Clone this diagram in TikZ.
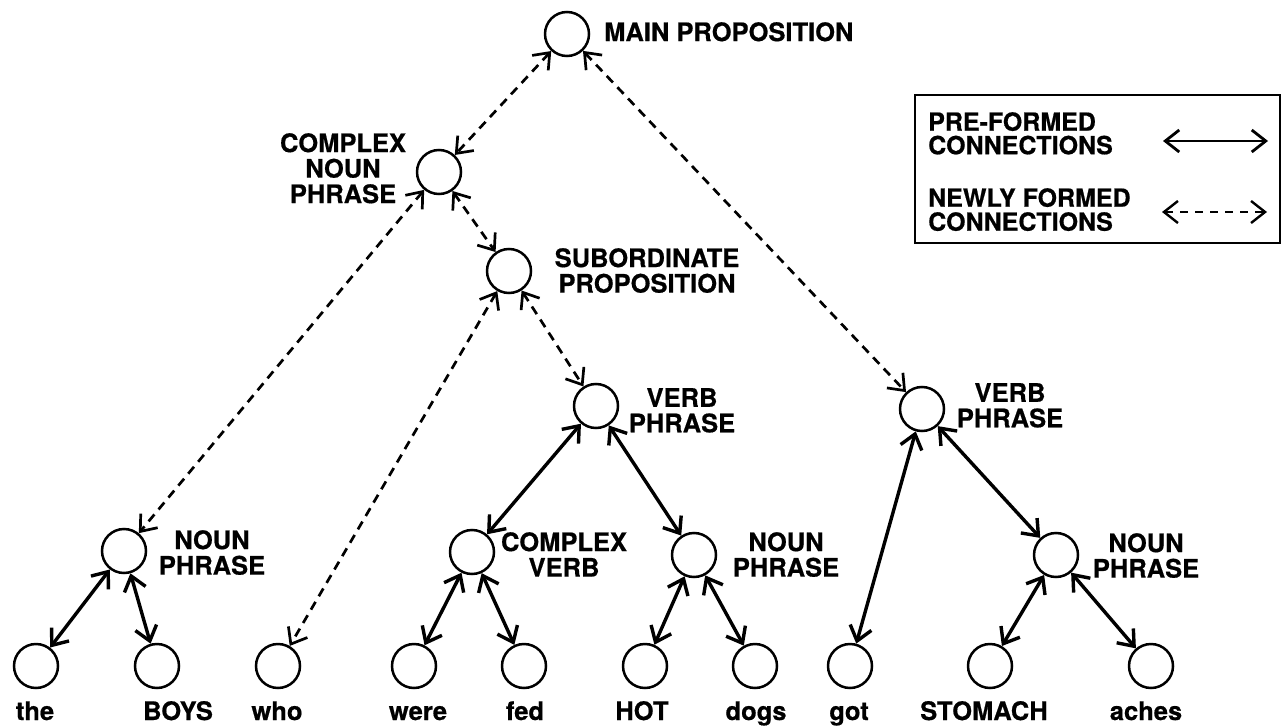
\documentclass[tikz,border=0pt]{standalone}
\usepackage{fontspec}
\setmainfont{TeX Gyre Heros}[BoldFeatures={FakeBold=0.6}]
\usetikzlibrary{arrows.meta}
\begin{document}
\begin{tikzpicture}[x=1pt,y=-1pt,
  every node/.style={font=\fontsize{25.5}{25.5}\selectfont\bfseries, inner sep=0pt},
  unit/.style={circle, draw, line width=2.5pt, minimum size=44pt},
  lbl/.style={align=center, anchor=north},
  word/.style={anchor=base},
  barbs/.style={{Straight Barb[length=14pt,width=22pt]}-{Straight Barb[length=14pt,width=22pt]}},
  pre/.style={barbs, line width=3.4pt},
  new/.style={barbs, line width=2.7pt, dash pattern=on 9pt off 6.5pt},
]
\useasboundingbox (0,0) rectangle (1281,727);

% units of the parse tree
\node[unit] (main) at (567,34)  {};
\node[unit] (cnp)  at (439,172) {};
\node[unit] (sub)  at (509,271) {};
\node[unit] (vpa)  at (596,406) {};
\node[unit] (vpb)  at (922,409) {};
\node[unit] (npa)  at (124,551) {};
\node[unit] (cv)   at (472,552) {};
\node[unit] (npb)  at (694,555) {};
\node[unit] (npc)  at (1056,555) {};

% word units
\node[unit] (the)     at (36,666)   {};
\node[unit] (boys)    at (157,666)  {};
\node[unit] (who)     at (278,666)  {};
\node[unit] (were)    at (414,666)  {};
\node[unit] (fed)     at (524,666)  {};
\node[unit] (hot)     at (645,666)  {};
\node[unit] (dogs)    at (755,666)  {};
\node[unit] (got)     at (850,666)  {};
\node[unit] (stomach) at (990,666)  {};
\node[unit] (aches)   at (1151,666) {};

% unit labels
\node[anchor=north west] (mainl) at (604,22) {MAIN PROPOSITION};
\node[lbl] (cnpl) at (343,133) {COMPLEX\\NOUN\\PHRASE};
\node[lbl] (subl) at (647,248) {SUBORDINATE\\PROPOSITION};
\node[lbl] (vpal) at (682,388) {VERB\\PHRASE};
\node[lbl] (vpbl) at (1010,383) {VERB\\PHRASE};
\node[lbl] (npal) at (212,530) {NOUN\\PHRASE};
\node[lbl] (cvl)  at (564,532) {COMPLEX\\VERB};
\node[lbl] (npbl) at (786,532) {NOUN\\PHRASE};
\node[lbl] (npcl) at (1146,533) {NOUN\\PHRASE};

% words
\node[word] (thew)     at (35,720)   {the};
\node[word] (boysw)    at (178,720)  {BOYS};
\node[word] (whow)     at (277,720)  {who};
\node[word] (werew)    at (418,720)  {were};
\node[word] (fedw)     at (525,720)  {fed};
\node[word] (hotw)     at (642,720)  {HOT};
\node[word] (dogsw)    at (756,720)  {dogs};
\node[word] (gotw)     at (849,720)  {got};
\node[word] (stomachw) at (984,720)  {STOMACH};
\node[word] (achesw)   at (1146,720) {aches};

% newly formed connections
\draw[new] (main) -- (cnp);
\draw[new] (main) -- (vpb);
\draw[new] (cnp) -- (sub);
\draw[new] (cnp) -- (npa);
\draw[new] (sub) -- (who);
\draw[new] (sub) -- (vpa);

% pre-formed connections
\draw[pre] (vpa) -- (cv);
\draw[pre] (vpa) -- (npb);
\draw[pre] (npa) -- (the);
\draw[pre] (npa) -- (boys);
\draw[pre] (cv) -- (were);
\draw[pre] (cv) -- (fed);
\draw[pre] (npb) -- (hot);
\draw[pre] (npb) -- (dogs);
\draw[pre] (vpb) -- (got);
\draw[pre] (vpb) -- (npc);
\draw[pre] (npc) -- (stomach);
\draw[pre] (npc) -- (aches);

% legend
\node[draw, line width=2.2pt, anchor=north west, minimum width=365pt, minimum height=148pt] (legend) at (914,94) {};
\node[anchor=north west, align=left, font=\fontsize{25}{23.5}\selectfont\bfseries] (prel) at (928,112) {PRE-FORMED\\CONNECTIONS};
\node[anchor=north west, align=left, font=\fontsize{25}{24}\selectfont\bfseries] (newl) at (928,188) {NEWLY FORMED\\CONNECTIONS};
\coordinate (pa) at (1163,141);
\coordinate (pb) at (1268,141);
\coordinate (na) at (1162,212);
\coordinate (nb) at (1267,212);
\draw[barbs, line width=2.8pt] (pa) -- (pb);
\draw[barbs, line width=2.4pt, dash pattern=on 8pt off 7pt] (na) -- (nb);
\end{tikzpicture}
\end{document}
